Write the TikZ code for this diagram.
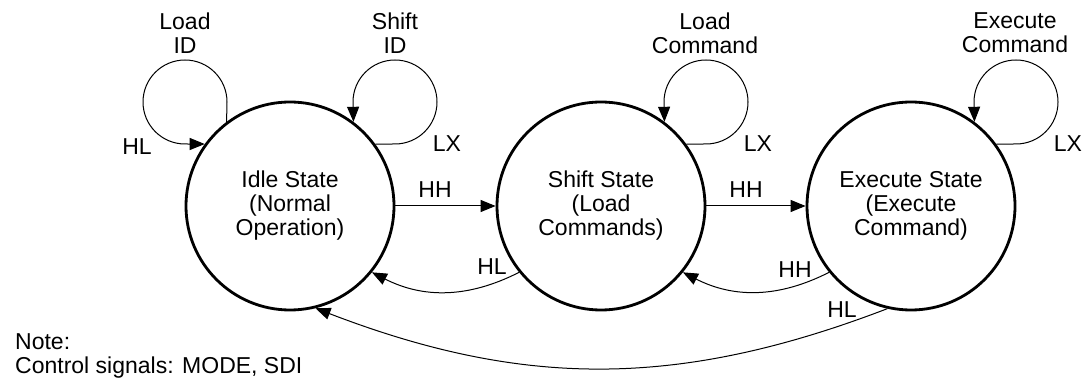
\documentclass[tikz,border=0pt]{standalone}
\usepackage{fontspec}
\setmainfont{Liberation Sans}
\usetikzlibrary{arrows.meta,calc}
\begin{document}
\begin{tikzpicture}[x=1pt,y=1pt,
  every node/.style={font=\fontsize{23}{24}\selectfont, inner sep=0pt, align=center},
  state/.style={circle, draw, line width=2.8pt, minimum size=208pt},
  link/.style={line width=1pt, -{Triangle[length=15pt,width=12pt]}},
  lbl/.style={anchor=base}]
\useasboundingbox[fill=white] (0,0) rectangle (1083,379);

% states
\node[state] (idle)  at (290,173) {Idle State\\(Normal\\Operation)};
\node[state] (shift) at (601,173) {Shift State\\(Load\\Commands)};
\node[state] (exec)  at (911,173) {Execute State\\(Execute\\Command)};

% centres of the self loops
\coordinate (idleL)  at ($(idle.center)+(-105,104)$);
\coordinate (idleR)  at ($(idle.center)+(105,104)$);
\coordinate (shiftR) at ($(shift.center)+(105,104)$);
\coordinate (execR)  at ($(exec.center)+(105,104)$);

% self loops
\draw[link] (idle.127) -- ($(idleL)+(42,0)$) arc[start angle=0,end angle=270,radius=42] -- (idle.144);
\draw[link] (idle.36) -- ($(idleR)+(0,-42)$) arc[start angle=-90,end angle=180,radius=42] -- (idle.53);
\draw[link] (shift.36) -- ($(shiftR)+(0,-42)$) arc[start angle=-90,end angle=180,radius=42] -- (shift.53);
\draw[link] (exec.36) -- ($(execR)+(0,-42)$) arc[start angle=-90,end angle=180,radius=42] -- (exec.53);

\node (tLoadID)  at (185,346)  {Load\\ID};
\node (tShiftID) at (395,346)  {Shift\\ID};
\node (tLoadCmd) at (705,346)  {Load\\Command};
\node (tExecCmd) at (1015,346) {Execute\\Command};

\node[lbl] (cLoadID)  at (137,224)  {HL};
\node[lbl] (cShiftID) at (447,227)  {LX};
\node[lbl] (cLoadCmd) at (758,227)  {LX};
\node[lbl] (cExecCmd) at (1068,227) {LX};

% transitions between states
\draw[link] (idle.east) -- (shift.west);
\draw[link] (shift.east) -- (exec.west);
\draw[link] (shift.219) to[bend left=27] (idle.-39);
\draw[link] (exec.219) to[bend left=27] (shift.-39);
\draw[link] (exec.257) to[bend left=21] (idle.284);

\node[lbl] (cIS) at (435,181) {HH};
\node[lbl] (cSE) at (746,181) {HH};
\node[lbl] (cSI) at (492,104) {HL};
\node[lbl] (cES) at (795,101) {HH};
\node[lbl] (cEI) at (842,61)  {HL};

% note
\node[anchor=north west, align=left] (note) at (15,46) {Note:\\Control signals: MODE, SDI};
\end{tikzpicture}
\end{document}
